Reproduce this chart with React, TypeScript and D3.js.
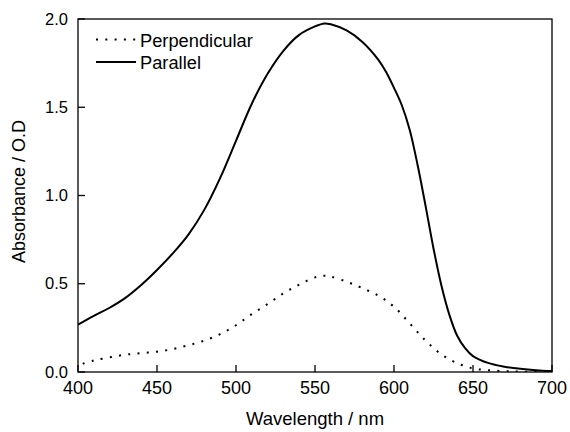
import React from "react";
import * as d3 from "d3";

const wavelengthsPar = [400, 410, 420, 430, 440, 450, 460, 470, 480, 490, 500, 510, 520, 530, 540, 550, 556, 560, 570, 580, 590, 595, 600, 605, 610, 615, 620, 625, 630, 635, 640, 645, 650, 660, 670, 680, 690, 700];
const parallel = [0.268, 0.318, 0.364, 0.42, 0.493, 0.578, 0.672, 0.78, 0.92, 1.1, 1.31, 1.52, 1.69, 1.82, 1.91, 1.958, 1.975, 1.97, 1.935, 1.87, 1.77, 1.7, 1.61, 1.51, 1.37, 1.17, 0.94, 0.7, 0.49, 0.325, 0.205, 0.135, 0.09, 0.05, 0.03, 0.018, 0.01, 0.005];

const wavelengthsPerp = [403, 410, 420, 430, 440, 450, 460, 470, 480, 490, 500, 510, 520, 530, 540, 550, 556, 560, 570, 580, 590, 600, 610, 620, 630, 640, 650, 660, 670, 680, 700];
const perpendicular = [0.047, 0.065, 0.083, 0.098, 0.107, 0.115, 0.13, 0.152, 0.178, 0.215, 0.265, 0.328, 0.385, 0.445, 0.495, 0.536, 0.546, 0.54, 0.512, 0.475, 0.433, 0.37, 0.275, 0.178, 0.1, 0.05, 0.02, 0.01, 0.005, 0.002, 0];

const xTicks = [400, 450, 500, 550, 600, 650, 700];
const yTicks = [0, 0.5, 1.0, 1.5, 2.0];
const seriesNames = ["Perpendicular", "Parallel"];

const W = 570, H = 432;
const L = 78, R = 552, T = 19, B = 372;
const FONT = "'Liberation Sans', Arial, sans-serif";

export default function App() {
  const x = d3.scaleLinear().domain([400, 700]).range([L, R]);
  const y = d3.scaleLinear().domain([0, 2]).range([B, T]);
  const line = d3.line<[number, number]>().x(d => x(d[0])).y(d => y(d[1])).curve(d3.curveCatmullRom.alpha(0.5));
  const parPath = line(wavelengthsPar.map((w, i) => [w, parallel[i]]) as [number, number][]) || "";
  const perpPath = line(wavelengthsPerp.map((w, i) => [w, perpendicular[i]]) as [number, number][]) || "";

  return (
    <svg width={W} height={H} style={{ position: "absolute", left: 0, top: 0, background: "#fff" }} fontFamily={FONT}>
      <rect x={0} y={0} width={W} height={H} fill="#fff" />
      <defs>
        <clipPath id="plot">
          <rect x={L} y={T - 2} width={R - L} height={B - T + 2} />
        </clipPath>
      </defs>
      <g clipPath="url(#plot)">
        <path d={perpPath} fill="none" stroke="#000" strokeWidth={2} strokeDasharray="2,7.3" />
        <path d={parPath} fill="none" stroke="#000" strokeWidth={2} />
      </g>
      <rect x={L} y={T} width={R - L} height={B - T} fill="none" stroke="#000" strokeWidth={1.3} />
      {xTicks.map(t => (
        <g key={"x" + t}>
          <line x1={x(t)} x2={x(t)} y1={B} y2={B - 7} stroke="#000" strokeWidth={1.3} />
          <text x={x(t)} y={394} textAnchor="middle" fontSize={18}>{t}</text>
        </g>
      ))}
      {yTicks.map(t => (
        <g key={"y" + t}>
          <line x1={L} x2={L + 7} y1={y(t)} y2={y(t)} stroke="#000" strokeWidth={1.3} />
          <text x={68} y={y(t) + 5.5} textAnchor="end" fontSize={16.5}>{t.toFixed(1)}</text>
        </g>
      ))}
      <text x={(L + R) / 2} y={425} textAnchor="middle" fontSize={18.5}>Wavelength / nm</text>
      <text transform={`translate(25,${(T + B) / 2 - 4}) rotate(-90)`} textAnchor="middle" fontSize={18}>Absorbance / O.D</text>
      <line x1={96} x2={136} y1={39.5} y2={39.5} stroke="#000" strokeWidth={2} strokeDasharray="2,7.3" />
      <line x1={96} x2={136} y1={62} y2={62} stroke="#000" strokeWidth={2} />
      <text x={140} y={46.5} fontSize={18.3}>{seriesNames[0]}</text>
      <text x={140} y={68.5} fontSize={18.3}>{seriesNames[1]}</text>
    </svg>
  );
}
